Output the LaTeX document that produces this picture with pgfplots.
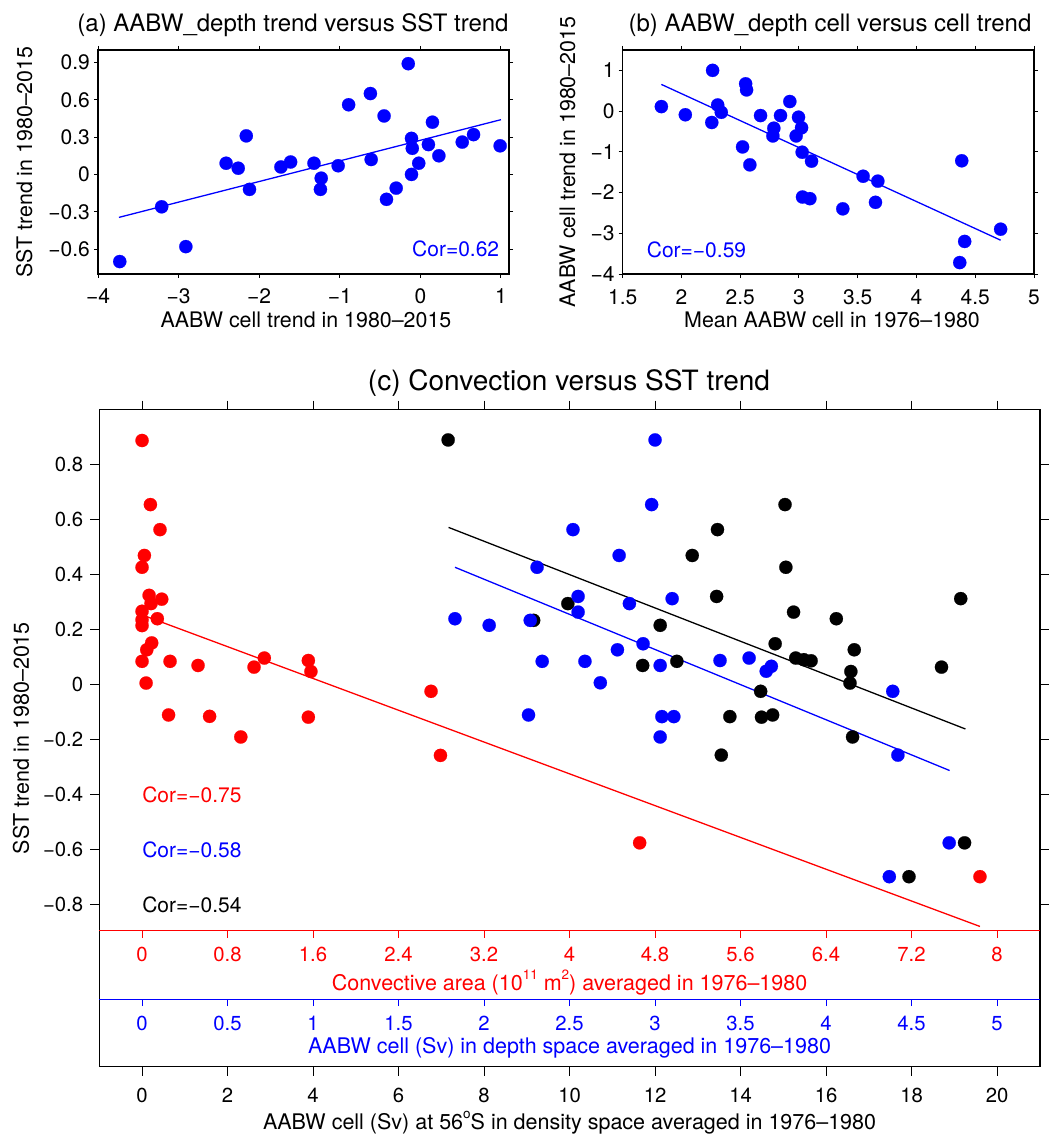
\documentclass[border=0pt]{standalone}
\usepackage{fontspec}
\setmainfont{TeX Gyre Heros}
\usepackage{pgfplots}
\usepackage{pgfplotstable}
\pgfplotsset{compat=1.18}
\newcommand\fs[1]{\fontsize{#1}{#1}\selectfont}
\newcommand\upper[1]{\raisebox{0.52em}{\fs{13.5}#1}}

% panel (c): SST trend against three measures of the 1976-1980 state
\pgfplotstableread{
area sst
0 0.888
0.078 0.655
0.168 0.564
0.022 0.470
0 0.427
0.066 0.325
0.184 0.311
0.084 0.295
0 0.267
0.143 0.240
0 0.236
0 0.215
0.090 0.152
0.044 0.127
0 0.085
0.262 0.085
0.524 0.070
0.038 0.006
1.048 0.064
1.144 0.097
1.556 0.088
1.580 0.048
0.248 -0.110
0.632 -0.115
1.556 -0.118
0.924 -0.190
2.704 -0.024
2.792 -0.257
4.656 -0.575
7.84 -0.698
}\redtab

\pgfplotstableread{
cell sst
3.00 0.890
2.98 0.655
2.52 0.564
2.79 0.470
2.31 0.427
2.55 0.321
3.10 0.313
2.85 0.295
2.55 0.264
1.83 0.240
2.03 0.216
2.27 0.234
2.93 0.149
2.78 0.127
2.34 0.085
2.59 0.085
3.38 0.088
3.55 0.097
3.03 0.070
3.68 0.067
3.65 0.049
2.68 0.007
4.39 -0.024
2.26 -0.110
3.04 -0.116
3.11 -0.116
3.03 -0.190
4.42 -0.256
4.37 -0.698
4.72 -0.575
}\bluetab

\pgfplotstableread{
cell sst
7.16 0.890
15.04 0.655
13.46 0.564
12.87 0.470
15.06 0.427
13.44 0.321
19.15 0.313
9.96 0.295
15.24 0.264
16.24 0.240
9.16 0.234
12.12 0.216
14.81 0.149
16.66 0.127
15.29 0.097
15.48 0.091
15.65 0.087
12.51 0.085
11.71 0.070
18.70 0.064
16.58 0.048
16.56 0.006
14.47 -0.024
13.75 -0.116
14.49 -0.118
14.75 -0.110
16.62 -0.190
13.55 -0.256
17.94 -0.698
19.24 -0.575
}\blacktab

\pgfplotsset{
  panel/.style={
    scale only axis, anchor=north west, clip=false,
    axis line style={line width=1.4pt},
    tick style={line width=1pt, black},
    tick align=outside,
    tick label style={inner sep=0pt},
    label style={inner sep=0pt},
  },
  dots/.style={#1, only marks, mark=*, mark size=6.6pt,
    mark options={solid, draw=#1, fill=#1, line width=0.2pt}},
  fitline/.style={#1, line width=1.3pt, no marks},
}

\begin{document}
\begin{tikzpicture}
\useasboundingbox (0pt,0pt) rectangle (1049pt,-1139pt);

\node[font=\fs{24}, anchor=base] at (293pt,-31.5pt) {(a) AABW\_depth trend versus SST trend};
\node[font=\fs{24}, anchor=base] at (830pt,-31.5pt) {(b) AABW\_depth cell versus cell trend};
\node[font=\fs{28}, anchor=base] at (569pt,-390pt) {(c) Convection versus SST trend};

% (a)
\begin{axis}[panel, at={(98pt,-50pt)}, width=411pt, height=224pt,
  xmin=-4, xmax=1.1, ymin=-0.8, ymax=1,
  xtick={-4,-3,-2,-1,0,1}, xticklabels={−4,−3,−2,−1,0,1},
  ytick={-0.6,-0.3,0,0.3,0.6,0.9}, yticklabels={−0.6,−0.3,0,0.3,0.6,0.9},
  major tick length=4pt,
  tick label style={font=\fs{21}},
  xticklabel style={anchor=base, yshift=-26pt},
  yticklabel style={anchor=east, xshift=-4pt},
  xlabel={AABW cell trend in 1980–2015},
  ylabel={SST trend in 1980–2015},
  label style={font=\fs{21.4}},
  xlabel style={at={(axis description cs:0.506,-0.241)}, anchor=base},
  ylabel style={at={(axis description cs:-0.179,0.5)}, anchor=center},
]
\addplot[fitline=blue] coordinates {(-3.74,-0.345) (1.0,0.44)};
\addplot[dots=blue] coordinates {
(-0.15,0.89) (-0.62,0.65) (-0.89,0.56) (-0.45,0.47) (0.15,0.42) (-2.16,0.31)
(-0.11,0.29) (0.66,0.32) (0.52,0.26) (0.99,0.23) (0.10,0.24) (-0.10,0.21)
(0.23,0.15) (-0.61,0.12) (-2.41,0.09) (-2.26,0.05) (-1.73,0.06) (-1.61,0.10)
(-1.32,0.09) (-1.02,0.07) (-0.02,0.09) (-0.11,0.00) (-1.23,-0.03) (-1.24,-0.12)
(-2.12,-0.12) (-0.30,-0.11) (-0.42,-0.20) (-3.21,-0.26) (-2.91,-0.58) (-3.73,-0.70)};
\node[blue, font=\fs{21}, anchor=east, inner sep=0pt] at (axis cs:0.98,-0.6) {Cor=0.62};
\end{axis}

% (b)
\begin{axis}[panel, at={(622.7pt,-50pt)}, width=411.3pt, height=224pt,
  xmin=1.5, xmax=5, ymin=-4, ymax=1.5,
  xtick={1.5,2,2.5,3,3.5,4,4.5,5}, xticklabels={1.5,2,2.5,3,3.5,4,4.5,5},
  ytick={-4,-3,-2,-1,0,1}, yticklabels={−4,−3,−2,−1,0,1},
  major tick length=4pt,
  tick label style={font=\fs{21}},
  xticklabel style={anchor=base, yshift=-26pt},
  yticklabel style={anchor=east, xshift=-4pt},
  xlabel={Mean AABW cell in 1976–1980},
  ylabel={AABW cell trend in 1980–2015},
  label style={font=\fs{21.4}},
  xlabel style={at={(axis description cs:0.509,-0.241)}, anchor=base},
  ylabel style={at={(axis description cs:-0.134,0.5)}, anchor=center},
]
\addplot[fitline=blue] coordinates {(1.829,0.655) (4.716,-3.17)};
\addplot[dots=blue] coordinates {
(2.265,1.0) (2.546,0.67) (2.554,0.52) (1.829,0.11) (2.308,0.15) (2.339,-0.03)
(2.033,-0.09) (2.258,-0.28) (2.922,0.235) (2.673,-0.11) (2.843,-0.11) (2.996,-0.15)
(2.786,-0.42) (3.022,-0.41) (2.778,-0.61) (2.976,-0.61) (2.520,-0.88) (3.027,-1.01)
(2.582,-1.32) (3.107,-1.23) (3.546,-1.60) (3.671,-1.72) (4.385,-1.22) (3.030,-2.11)
(3.093,-2.15) (3.373,-2.40) (3.651,-2.24) (4.716,-2.90) (4.410,-3.20) (4.368,-3.72)};
\node[blue, font=\fs{21}, anchor=west, inner sep=0pt] at (axis cs:1.704,-3.41) {Cor=−0.59};
\end{axis}

% (c)
\begin{axis}[panel, at={(99.3pt,-409.7pt)}, width=940.5pt, height=657pt,
  xmin=-1, xmax=21, ymin=-1.389, ymax=1,
  xtick={0,2,4,6,8,10,12,14,16,18,20}, xticklabels={0,2,4,6,8,10,12,14,16,18,20},
  ytick={-0.8,-0.6,-0.4,-0.2,0,0.2,0.4,0.6,0.8},
  yticklabels={−0.8,−0.6,−0.4,−0.2,0,0.2,0.4,0.6,0.8},
  major tick length=9pt,
  tick label style={font=\fs{20.3}},
  xticklabel style={anchor=base, yshift=-27pt},
  yticklabel style={anchor=east, xshift=-7pt},
  xlabel={AABW cell (Sv) at 56\upper{o}S in density space averaged in 1976–1980},
  ylabel={SST trend in 1980–2015},
  label style={font=\fs{21.5}},
  xlabel style={at={(axis description cs:0.5,-0.0963)}, anchor=base},
  ylabel style={at={(axis description cs:-0.0833,0.5)}, anchor=center},
]
\addplot[fitline=black] coordinates {(7.17,0.572) (19.26,-0.161)};
\addplot[fitline=blue] coordinates {(7.32,0.427) (18.89,-0.312)};
\addplot[fitline=red] coordinates {(0,0.254) (19.6,-0.879)};
\addplot[dots=black] table[x=cell, y=sst] {\blacktab};
\addplot[dots=blue] table[x expr=\thisrow{cell}*4, y=sst] {\bluetab};
\addplot[dots=red] table[x expr=\thisrow{area}*2.5, y=sst] {\redtab};
\node[red, font=\fs{21}, anchor=west, inner sep=0pt] at (axis cs:0,-0.4) {Cor=−0.75};
\node[blue, font=\fs{21}, anchor=west, inner sep=0pt] at (axis cs:0,-0.6) {Cor=−0.58};
\node[black, font=\fs{21}, anchor=west, inner sep=0pt] at (axis cs:0,-0.8) {Cor=−0.54};
\end{axis}

% convective-area scale (red)
\begin{axis}[at={(99.3pt,-930.7pt)}, anchor=south west, scale only axis,
  width=940.5pt, height=20pt,
  xmin=-0.4, xmax=8.4, ymin=0, ymax=1,
  hide y axis, axis x line*=bottom,
  x axis line style={red, line width=1pt, -},
  xtick={0,0.8,1.6,2.4,3.2,4,4.8,5.6,6.4,7.2,8},
  xticklabels={0,0.8,1.6,2.4,3.2,4,4.8,5.6,6.4,7.2,8},
  tick align=outside, major tick length=7pt,
  xtick style={red, line width=1pt},
  xticklabel style={red, font=\fs{20.3}, anchor=base, yshift=-24pt, inner sep=0pt},
  xlabel={Convective area (10\upper{11} m\upper{2}) averaged in 1976–1980},
  xlabel style={red, font=\fs{21.5}, inner sep=0pt, at={(axis description cs:0.5,0)}, anchor=base, yshift=-60pt},
]
\end{axis}

% depth-space cell scale (blue)
\begin{axis}[at={(99.3pt,-999pt)}, anchor=south west, scale only axis,
  width=940.5pt, height=20pt,
  xmin=-0.25, xmax=5.25, ymin=0, ymax=1,
  hide y axis, axis x line*=bottom,
  x axis line style={blue, line width=1pt, -},
  xtick={0,0.5,1,1.5,2,2.5,3,3.5,4,4.5,5},
  xticklabels={0,0.5,1,1.5,2,2.5,3,3.5,4,4.5,5},
  tick align=outside, major tick length=7pt,
  xtick style={blue, line width=1pt},
  xticklabel style={blue, font=\fs{20.3}, anchor=base, yshift=-24pt, inner sep=0pt},
  xlabel={AABW cell (Sv) in depth space averaged in 1976–1980},
  xlabel style={blue, font=\fs{21.5}, inner sep=0pt, at={(axis description cs:0.5,0)}, anchor=base, yshift=-54pt},
]
\end{axis}
\end{tikzpicture}
\end{document}
